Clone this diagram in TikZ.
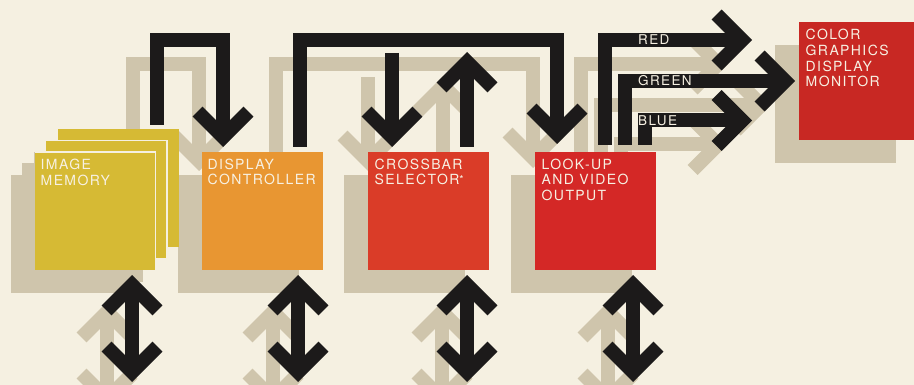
\documentclass[tikz,border=0pt]{standalone}
\usepackage{fontspec}
\setmainfont{TeX Gyre Heros}
\newfontfamily\lblfont{TeX Gyre Heros}[LetterSpace=10]
\usetikzlibrary{calc}
\pgfdeclarelayer{bg}
\pgfdeclarelayer{shade}
\pgfsetlayers{bg,shade,main}
\definecolor{cream}{HTML}{F5F0E1}
\definecolor{shadec}{HTML}{CFC5AC}
\definecolor{ink}{HTML}{1C1A1A}
\definecolor{memy}{HTML}{D6BA34}
\definecolor{ctrlo}{HTML}{E89632}
\definecolor{xbarr}{HTML}{DA3C28}
\definecolor{lutr}{HTML}{D42826}
\definecolor{monr}{HTML}{C82823}
\definecolor{txt}{HTML}{F7F1E3}
\newcommand\chevD[2]{\draw[#1] ($(#2)+(-25.5,-35.4)$) -- ++(25.5,25.5) -- ++(25.5,-25.5);}
\newcommand\chevU[2]{\draw[#1] ($(#2)+(-25.5,35.4)$) -- ++(25.5,-25.5) -- ++(25.5,25.5);}
\newcommand\chevR[2]{\draw[#1] ($(#2)+(-35.4,-25.5)$) -- ++(25.5,25.5) -- ++(-25.5,25.5);}
\newcommand\toparrows[1]{%
  \draw[#1] (p1a) -- (p1b) -- (p1c) -- ($(p1t)+(0,-12)$);
  \chevD{#1}{p1t}
  \draw[#1] (p2a) -- (p2b) -- (p2c) -- ($(p2t)+(0,-12)$);
  \chevD{#1}{p2t}
  \draw[#1] (p3a) -- ($(p3t)+(0,-12)$);
  \chevD{#1}{p3t}
  \draw[#1] (p4a) -- ($(p4t)+(0,12)$);
  \chevU{#1}{p4t}
  \draw[#1] (pra) -- (prb) -- ($(prt)+(-12,0)$);
  \chevR{#1}{prt}
  \draw[#1] (pga) -- (pgb) -- ($(pgt)+(-12,0)$);
  \chevR{#1}{pgt}
  \draw[#1] (pba) -- (pbb) -- ($(pbt)+(-12,0)$);
  \chevR{#1}{pbt}
}
\newcommand\botarrows[1]{%
  \foreach \k in {1,2,3,4}{
    \draw[#1] ($(u\k)+(0,12)$) -- ($(d\k)+(0,-12)$);
    \chevU{#1}{u\k}
    \chevD{#1}{d\k}
  }
}
\begin{document}
\begin{tikzpicture}[x=1pt,y=-1pt,
  box/.style={minimum width=121pt, minimum height=118pt, inner sep=0pt, outer sep=0pt},
  lbl/.style={anchor=north west, inner sep=0pt, align=left, text=txt,
    font=\lblfont\fontsize{14}{15.7}\selectfont},
  rgb/.style={anchor=base west, inner sep=0pt, text=txt,
    font=\lblfont\fontsize{13.5}{13.5}\selectfont},
  blk/.style={draw=ink, line width=14pt, line join=miter, line cap=butt},
  shd/.style={draw=shadec, line width=14pt, line join=miter, line cap=butt},
  edge/.style={draw=cream, line width=1.4pt},
]
\useasboundingbox (0,0) rectangle (914,385);
\begin{pgfonlayer}{bg}
  \fill[cream] (0,0) rectangle (914,385);
\end{pgfonlayer}

% boxes
\node[box, fill=memy] (mem3) at (118,188) {};
\node[box, fill=memy] (mem2) at (106.5,199.5) {};
\draw[edge] (mem2.south east) -- (mem2.north east) -- (mem2.north west);
\node[box, fill=memy] (mem) at (95,211) {};
\draw[edge] (mem.south east) -- (mem.north east) -- (mem.north west);
\node[box, fill=ctrlo] (ctrl) at (262,211) {};
\node[box, fill=xbarr] (xbar) at (428.5,211) {};
\node[box, fill=lutr] (lut) at (595.5,211) {};
\node[box, fill=monr] (mon) at (859,81) {};

% arrow coordinates
\coordinate (p1a) at (156.5,125);
\coordinate (p1b) at (156.5,40);
\coordinate (p1c) at (223,40);
\coordinate (p1t) at (223,147);
\coordinate (p2a) at (300,147);
\coordinate (p2b) at (300,40);
\coordinate (p2c) at (557,40);
\coordinate (p2t) at (557,144);
\coordinate (p3a) at (392,53);
\coordinate (p3t) at (392,147);
\coordinate (p4a) at (467,147);
\coordinate (p4t) at (467,52);
\coordinate (pra) at (604.5,145);
\coordinate (prb) at (604.5,40);
\coordinate (prt) at (752,40);
\coordinate (pga) at (624.5,145);
\coordinate (pgb) at (624.5,81);
\coordinate (pgt) at (795,81);
\coordinate (pba) at (644.5,145);
\coordinate (pbb) at (644.5,120.5);
\coordinate (pbt) at (752,120.5);
\coordinate (u1) at (132,275); \coordinate (d1) at (132,382);
\coordinate (u2) at (298,275); \coordinate (d2) at (298,382);
\coordinate (u3) at (467,275); \coordinate (d3) at (467,382);
\coordinate (u4) at (633,275); \coordinate (d4) at (633,382);

% shadows
\begin{pgfonlayer}{shade}
  \foreach \b in {mem3,mem2,mem,ctrl,xbar,lut,mon}{
    \fill[shadec] ($(\b.north west)+(-24,23)$) rectangle ($(\b.south east)+(-24,23)$);
  }
  \begin{scope}[transform canvas={shift={(-24,24)}}]
    \toparrows{shd}
  \end{scope}
  \begin{scope}[transform canvas={shift={(-25,27)}}]
    \botarrows{shd}
  \end{scope}
\end{pgfonlayer}

% black connectors
\toparrows{blk}
\botarrows{blk}

% labels
\node[lbl] (memtx) at ($(mem.north west)+(6,7)$) {IMAGE\\MEMORY};
\node[lbl] (ctrltx) at ($(ctrl.north west)+(6,6.5)$) {DISPLAY\\CONTROLLER};
\node[lbl] (xbartx) at ($(xbar.north west)+(6.5,6.5)$) {CROSSBAR\\SELECTOR\raisebox{1.5pt}{\fontsize{11}{11}\selectfont*}};
\node[lbl] (luttx) at ($(lut.north west)+(6.5,6.5)$) {LOOK-UP\\AND VIDEO\\OUTPUT};
\node[lbl] (montx) at ($(mon.north west)+(7,7)$) {COLOR\\GRAPHICS\\DISPLAY\\MONITOR};
\node[rgb] (redtx) at (638,44.9) {RED};
\node[rgb] (greentx) at (638,85.9) {GREEN};
\node[rgb] (bluetx) at (638,125.4) {BLUE};
\end{tikzpicture}
\end{document}
